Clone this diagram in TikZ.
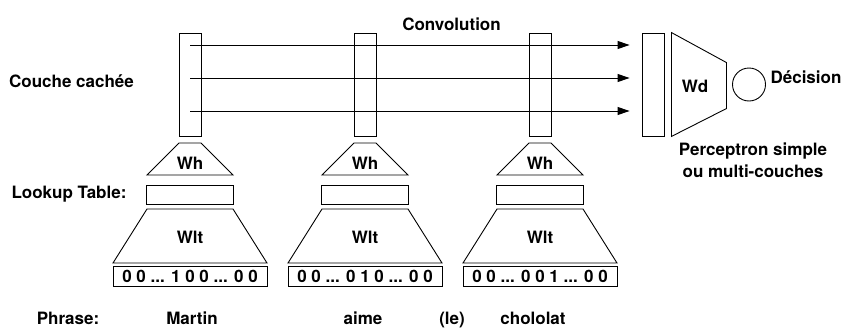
\documentclass[tikz,border=0pt]{standalone}
\usepackage{fontspec}
\setmainfont{TeX Gyre Heros}
\usetikzlibrary{arrows.meta}

\tikzset{
  every node/.style={font=\bfseries\fontsize{17}{22}\selectfont},
  bar/.style={draw, minimum width=22pt, minimum height=103pt, inner sep=0pt},
  vecbox/.style={draw, minimum width=154pt, minimum height=20pt, inner sep=0pt},
  lutbox/.style={draw, minimum width=87pt, minimum height=19pt, inner sep=0pt},
  conv/.style={-{Triangle[length=12pt, width=8pt]}, shorten >=12pt}
}

\begin{document}
\begin{tikzpicture}[x=1pt, y=-1pt, line width=0.9pt]
  \useasboundingbox (0,0) rectangle (844,327);

  % one column per word
  \foreach \cx/\i in {190/1, 365/2, 540/3} {
    \node [bar] (h\i) at (\cx, 84.5) {};
    \draw (\cx-11, 143) -- (\cx+11, 143) -- (\cx+43, 175) -- (\cx-43, 175) -- cycle;
    \node [anchor=base] (wh\i) at (\cx, 169) {Wh};
    \node [lutbox] (lt\i) at (\cx, 194.5) {};
    \draw (\cx-43, 209) -- (\cx+43, 209) -- (\cx+77, 263) -- (\cx-77, 263) -- cycle;
    \node [anchor=base] (wlt\i) at (\cx, 243) {Wlt};
  }
  \node [vecbox] (v1) at (190, 276) {0 0 ... 1 0 0 ... 0 0};
  \node [vecbox] (v2) at (365, 276) {0 0 ... 0 1 0 ... 0 0};
  \node [vecbox] (v3) at (540, 276) {0 0 ... 0 0 1 ... 0 0};

  % perceptron
  \node [bar] (p) at (653, 84.5) {};
  \draw ([xshift=7pt]p.north east) -- ++(55, 30) -- ++(0, 46) -- ([xshift=7pt]p.south east) -- cycle;
  \node [anchor=base] (wd) at (695, 92) {Wd};
  \node [draw, circle, minimum size=33pt, inner sep=0pt] (dec) at (749, 84.5) {};
  \node [anchor=base] (declab) at (806, 83) {Décision};

  \foreach \y in {45, 78, 111}
    \draw [conv] (h1 |- 0,\y) -- (p.west |- 0,\y);

  % labels
  \node [anchor=base] (convlab) at (451.5, 30) {Convolution};
  \node [anchor=base] (cclab) at (71.5, 87) {Couche cachée};
  \node [anchor=base, align=center] (perclab) at (753, 177) {Perceptron simple\\ou multi-couches};
  \node [anchor=base] (lutlab) at (69, 198) {Lookup Table:};
  \node [anchor=base] (phrlab) at (68, 324.5) {Phrase:};
  \node [anchor=base] (w1) at (192, 324.5) {Martin};
  \node [anchor=base] (w2) at (363, 324.5) {aime};
  \node [anchor=base] (w3) at (452, 324.5) {(le)};
  \node [anchor=base] (w4) at (533, 324.5) {chololat};
\end{tikzpicture}
\end{document}
